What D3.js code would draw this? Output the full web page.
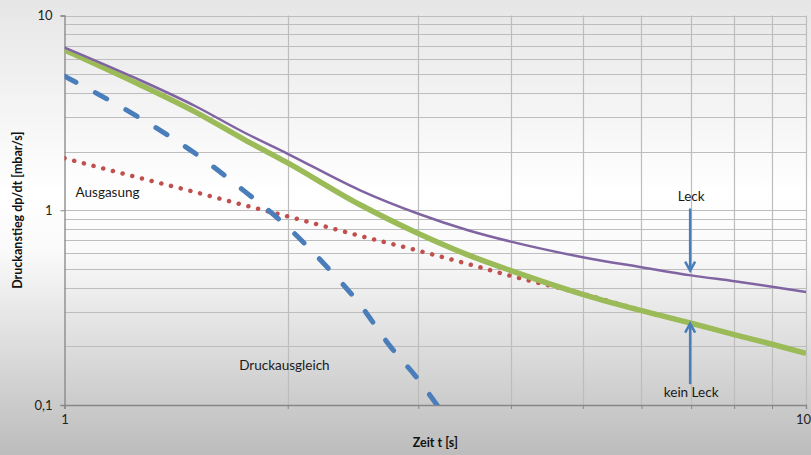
<!DOCTYPE html>
<html><head><meta charset="utf-8">
<script src="https://cdn.jsdelivr.net/npm/d3@7"></script>
<style>html,body{margin:0;padding:0;background:#fff}svg{display:block}</style>
</head><body><svg id="c" width="811" height="455"></svg>
<script>
const tLeck = [1, 1.25, 1.5, 1.75, 2, 2.5, 3, 3.5, 4, 5, 6, 7, 8, 9, 10];
const leck = [6.85, 4.75, 3.43, 2.5, 1.95, 1.27, 0.96, 0.79, 0.69, 0.574, 0.51, 0.463, 0.432, 0.405, 0.38];
const keinLeck = [6.65, 4.5, 3.2, 2.3, 1.75, 1.07, 0.76, 0.59, 0.49, 0.37, 0.305, 0.263, 0.23, 0.205, 0.184];
const ausgasung = [1.85, 1.48, 1.24, 1.06, 0.93, 0.74, 0.62, 0.53, 0.46, 0.372, 0.306, 0.263, 0.23, 0.205, 0.184];
const tDruck = [1, 1.25, 1.5, 1.75, 2, 2.25, 2.5, 2.75, 3, 3.18];
const druckausgleich = [4.88, 3.05, 1.96, 1.25, 0.82, 0.52, 0.33, 0.2, 0.135, 0.1];
const xTicks = [1, 2, 3, 4, 5, 6, 7, 8, 9, 10];
const xTickLabels = ["1", "10"];
const yTickLabels = [[0.1, "0,1"], [1, "1"], [10, "10"]];
const xTitle = "Zeit t [s]";
const yTitle = "Druckanstieg dp/dt [mbar/s]";

const svg = d3.select("#c");
const W = 811, H = 455;
const defs = svg.append("defs");
const g = defs.append("linearGradient").attr("id", "bg").attr("x1", 0).attr("y1", 0).attr("x2", 0).attr("y2", 1);
g.append("stop").attr("offset", "0").attr("stop-color", "#e6e6e6");
g.append("stop").attr("offset", "0.42").attr("stop-color", "#ffffff");
g.append("stop").attr("offset", "0.55").attr("stop-color", "#fafafa");
g.append("stop").attr("offset", "1").attr("stop-color", "#bcbcbc");
svg.append("rect").attr("width", W).attr("height", H).attr("fill", "url(#bg)");

const x = d3.scaleLog().domain([1, 10]).range([64.5, 806]);
const y = d3.scaleLog().domain([0.1, 10]).range([405, 15.5]);

defs.append("clipPath").attr("id", "clip").append("rect")
  .attr("x", 64.5).attr("y", 15.5).attr("width", 806 - 64.5).attr("height", 405 - 15.5);

const font = "Lato, 'Open Sans', sans-serif";

// grid
const yGrid = [];
[0.1, 1].forEach(d => { for (let k = 2; k <= 10; k++) yGrid.push(+(d * k).toFixed(3)); });
svg.append("g").selectAll("line").data(yGrid).join("line")
  .attr("x1", 64.5).attr("x2", 806)
  .attr("y1", d => Math.round(y(d)) + 0.5).attr("y2", d => Math.round(y(d)) + 0.5)
  .attr("stroke", "#bdbdbd").attr("stroke-width", 1.2);
svg.append("g").selectAll("line").data(xTicks.slice(1)).join("line")
  .attr("y1", 15.5).attr("y2", 405)
  .attr("x1", d => Math.round(x(d)) + 0.5).attr("x2", d => Math.round(x(d)) + 0.5)
  .attr("stroke", "#bdbdbd").attr("stroke-width", 1.2);

// axes
const xAxis = d3.axisBottom(x).tickValues(xTicks).tickSize(4)
  .tickFormat(d => xTickLabels.includes(String(d)) ? String(d) : "");
const gx = svg.append("g").attr("transform", "translate(0,405)").call(xAxis);
gx.select(".domain").attr("stroke", "#868686").attr("stroke-width", 1.3);
gx.selectAll(".tick line").attr("stroke", "#868686");
gx.selectAll("text").attr("font-family", font).attr("font-size", 13).attr("fill", "#222").attr("dy", "0.95em");
gx.selectAll(".tick").filter(d => d === 10).select("text").attr("text-anchor", "end").attr("x", 4.5);

const yAxis = d3.axisLeft(y).tickValues(yTickLabels.map(d => d[0])).tickSize(4)
  .tickFormat(d => yTickLabels.find(e => e[0] === d)[1]);
const gy = svg.append("g").attr("transform", "translate(64.5,0)").call(yAxis);
gy.select(".domain").attr("stroke", "#868686").attr("stroke-width", 1.3);
gy.selectAll(".tick line").attr("stroke", "#868686");
gy.selectAll("text").attr("font-family", font).attr("font-size", 13).attr("fill", "#222").attr("x", -12);

// lines
const plot = svg.append("g").attr("clip-path", "url(#clip)");
const line = d3.line().x(d => x(d[0])).y(d => y(d[1])).curve(d3.curveMonotoneX);
const zip = (a, b) => a.map((v, i) => [v, b[i]]);

plot.append("path").datum(zip(tLeck, ausgasung)).attr("d", line)
  .attr("fill", "none").attr("stroke", "#c0504d").attr("stroke-width", 4.5)
  .attr("stroke-linecap", "round").attr("stroke-dasharray", "0.1 9.9");
plot.append("path").datum(zip(tDruck, druckausgleich)).attr("d", line)
  .attr("fill", "none").attr("stroke", "#4a7ebb").attr("stroke-width", 5)
  .attr("stroke-linecap", "round").attr("stroke-dasharray", "13 22");
plot.append("path").datum(zip(tLeck, keinLeck)).attr("d", line)
  .attr("fill", "none").attr("stroke", "#9bbb59").attr("stroke-width", 5.5);
plot.append("path").datum(zip(tLeck, leck)).attr("d", line)
  .attr("fill", "none").attr("stroke", "#8064a2").attr("stroke-width", 2.5);

// annotations
const arrows = [[7, 1.02, 0.49], [7, 0.128, 0.262]];
arrows.forEach(a => {
  const px = x(a[0]) - 1, y0 = y(a[1]), y1 = y(a[2]);
  const dir = y1 > y0 ? 1 : -1;
  svg.append("line").attr("x1", px).attr("x2", px).attr("y1", y0).attr("y2", y1 - dir * 1)
    .attr("stroke", "#4a7ebb").attr("stroke-width", 2.5);
  svg.append("path").attr("d", `M${px - 5},${y1 - dir * 9} L${px},${y1} L${px + 5},${y1 - dir * 9}`)
    .attr("fill", "none").attr("stroke", "#4a7ebb").attr("stroke-width", 2.5);
});

const labels = [["Ausgasung", 1.035, 1.17, "start"], ["Druckausgleich", 1.72, 0.152, "start"],
  ["Leck", 7, 1.11, "middle"], ["kein Leck", 7, 0.11, "middle"]];
svg.append("g").selectAll("text").data(labels).join("text")
  .attr("x", d => x(d[1])).attr("y", d => y(d[2]))
  .attr("text-anchor", d => d[3]).attr("font-family", font).attr("font-size", 13.5).attr("fill", "#1a1a1a")
  .text(d => d[0]);

svg.append("text").attr("x", (64.5 + 806) / 2).attr("y", 447).attr("text-anchor", "middle")
  .attr("font-family", font).attr("font-weight", "bold").attr("font-size", 12.5).attr("fill", "#111").text(xTitle);
svg.append("text").attr("transform", `translate(22,${(15.5 + 405) / 2}) rotate(-90)`).attr("text-anchor", "middle")
  .attr("font-family", font).attr("font-weight", "bold").attr("font-size", 12.5).attr("fill", "#111").text(yTitle);
</script></body></html>
